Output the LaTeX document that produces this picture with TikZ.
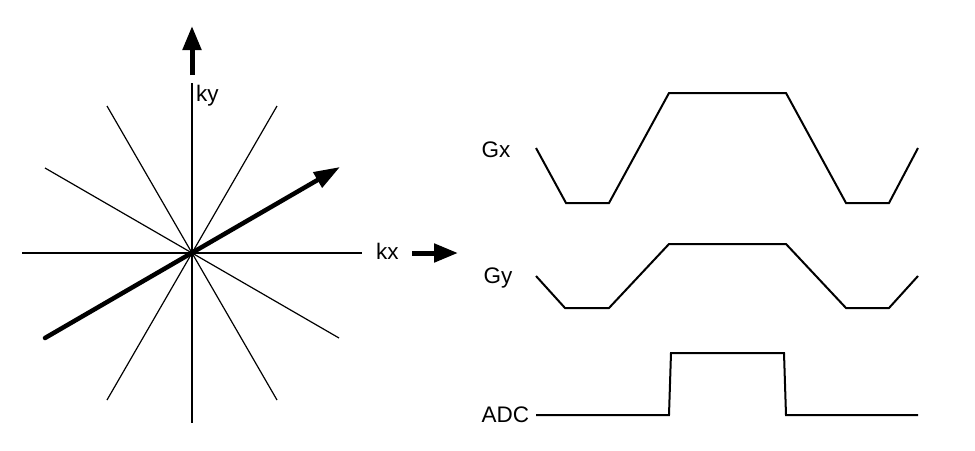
\documentclass[tikz,border=0pt]{standalone}
\usepackage{fontspec}
\setmainfont{Liberation Sans}
\usetikzlibrary{arrows.meta}
\begin{document}
\begin{tikzpicture}[x=1pt,y=-1pt,
  spoke/.style={line width=1.2pt},
  wave/.style={line width=2pt, line join=miter},
  bigarrow/.style={line width=5pt, -{Triangle[length=24pt,width=18pt]}},
  diagarrow/.style={line width=4.5pt, line cap=round, -{Triangle[length=26pt,width=17pt]}},
  lbl/.style={inner sep=0pt, anchor=base west, font=\fontsize{22.5}{26}\selectfont}]
\useasboundingbox (0,0) rectangle (975,450);
% k-space spokes
\coordinate (O) at (192,253);
\coordinate (L) at (22,253);   \coordinate (R) at (362,253);
\coordinate (T) at (192,83);   \coordinate (B) at (192,423);
\coordinate (a1) at (107,106); \coordinate (a2) at (277,400);
\coordinate (b1) at (277,106); \coordinate (b2) at (107,400);
\coordinate (c1) at (45,168);  \coordinate (c2) at (339,338);
\coordinate (d1) at (45,338);  \coordinate (d2) at (340,167);
\draw[spoke] (L) -- (R);
\draw[spoke] (T) -- (B);
\draw[spoke] (a1) -- (a2);
\draw[spoke] (b1) -- (b2);
\draw[spoke] (c1) -- (c2);
\draw[diagarrow] (d1) -- (d2);
% axis arrows and labels
\coordinate (ua) at (192,75); \coordinate (ub) at (192,26);
\draw[bigarrow] (ua) -- (ub);
\node[lbl] (ky) at (196,101) {ky};
\node[lbl] (kx) at (376,259) {kx};
\coordinate (ra) at (412,253); \coordinate (rb) at (458,253);
\draw[bigarrow] (ra) -- (rb);
% waveforms
\node[lbl] (gx) at (481.5,157) {Gx};
\node[lbl] (gy) at (483.5,283) {Gy};
\node[lbl] (adc) at (481.5,422) {ADC};
\coordinate (adcs) at (536,415);
\draw[wave] (536,148) -- (566,203) -- (609,203) -- (669,93) -- (786,93) -- (846,203) -- (889,203) -- (918,148);
\draw[wave] (536,276) -- (565,308) -- (609,308) -- (669,244) -- (786,244) -- (846,308) -- (889,308) -- (918,276);
\draw[wave] (adcs) -- (669,415) -- (671,353) -- (784,353) -- (786,415) -- (918,415);
\end{tikzpicture}
\end{document}
